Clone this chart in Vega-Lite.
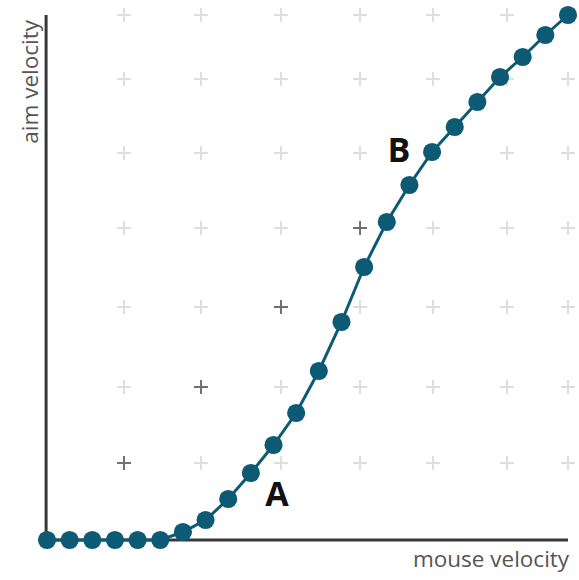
{
  "$schema": "https://vega.github.io/schema/vega-lite/v6.json",
  "width": 579,
  "height": 580,
  "padding": 0,
  "autosize": "none",
  "background": "white",
  "config": {"view": {"stroke": null}},
  "datasets": {
    "curve": [
      {"mouse": 0, "aim": 0}, {"mouse": 1, "aim": 0}, {"mouse": 2, "aim": 0}, {"mouse": 3, "aim": 0},
      {"mouse": 4, "aim": 0}, {"mouse": 5, "aim": 0}, {"mouse": 6, "aim": 8}, {"mouse": 7, "aim": 20},
      {"mouse": 8, "aim": 41}, {"mouse": 9, "aim": 67}, {"mouse": 10, "aim": 95}, {"mouse": 11, "aim": 127},
      {"mouse": 12, "aim": 169}, {"mouse": 13, "aim": 218}, {"mouse": 14, "aim": 273}, {"mouse": 15, "aim": 318},
      {"mouse": 16, "aim": 355}, {"mouse": 17, "aim": 388}, {"mouse": 18, "aim": 413}, {"mouse": 19, "aim": 438},
      {"mouse": 20, "aim": 463}, {"mouse": 21, "aim": 483}, {"mouse": 22, "aim": 505}, {"mouse": 23, "aim": 525}
    ],
    "grid": [
      {"gx": 3.4, "gy": 77, "tone": "dark"}, {"gx": 3.4, "gy": 153, "tone": "light"}, {"gx": 3.4, "gy": 233, "tone": "light"}, {"gx": 3.4, "gy": 312, "tone": "light"}, {"gx": 3.4, "gy": 387, "tone": "light"}, {"gx": 3.4, "gy": 461, "tone": "light"}, {"gx": 3.4, "gy": 525, "tone": "light"},
      {"gx": 6.8, "gy": 77, "tone": "light"}, {"gx": 6.8, "gy": 153, "tone": "dark"}, {"gx": 6.8, "gy": 233, "tone": "light"}, {"gx": 6.8, "gy": 312, "tone": "light"}, {"gx": 6.8, "gy": 387, "tone": "light"}, {"gx": 6.8, "gy": 461, "tone": "light"}, {"gx": 6.8, "gy": 525, "tone": "light"},
      {"gx": 10.33, "gy": 77, "tone": "light"}, {"gx": 10.33, "gy": 153, "tone": "light"}, {"gx": 10.33, "gy": 233, "tone": "dark"}, {"gx": 10.33, "gy": 312, "tone": "light"}, {"gx": 10.33, "gy": 387, "tone": "light"}, {"gx": 10.33, "gy": 461, "tone": "light"}, {"gx": 10.33, "gy": 525, "tone": "light"},
      {"gx": 13.82, "gy": 77, "tone": "light"}, {"gx": 13.82, "gy": 153, "tone": "light"}, {"gx": 13.82, "gy": 233, "tone": "light"}, {"gx": 13.82, "gy": 312, "tone": "dark"}, {"gx": 13.82, "gy": 387, "tone": "light"}, {"gx": 13.82, "gy": 461, "tone": "light"}, {"gx": 13.82, "gy": 525, "tone": "light"},
      {"gx": 17.04, "gy": 77, "tone": "light"}, {"gx": 17.04, "gy": 153, "tone": "light"}, {"gx": 17.04, "gy": 233, "tone": "light"}, {"gx": 17.04, "gy": 312, "tone": "light"}, {"gx": 17.04, "gy": 387, "tone": "light"}, {"gx": 17.04, "gy": 461, "tone": "light"}, {"gx": 17.04, "gy": 525, "tone": "light"},
      {"gx": 20.31, "gy": 77, "tone": "light"}, {"gx": 20.31, "gy": 153, "tone": "light"}, {"gx": 20.31, "gy": 233, "tone": "light"}, {"gx": 20.31, "gy": 312, "tone": "light"}, {"gx": 20.31, "gy": 387, "tone": "light"}, {"gx": 20.31, "gy": 461, "tone": "light"}, {"gx": 20.31, "gy": 525, "tone": "light"},
      {"gx": 23, "gy": 77, "tone": "light"}, {"gx": 23, "gy": 153, "tone": "light"}, {"gx": 23, "gy": 233, "tone": "light"}, {"gx": 23, "gy": 312, "tone": "light"}, {"gx": 23, "gy": 387, "tone": "light"}, {"gx": 23, "gy": 461, "tone": "light"}, {"gx": 23, "gy": 525, "tone": "light"}
    ],
    "axes": [
      {"ax": -0.04, "ax2": 23, "ay": 0, "ay2": 0},
      {"ax": -0.04, "ax2": -0.04, "ay": 0, "ay2": 525}
    ],
    "labels": [
      {"text": "A", "mouse": 10.15, "aim": 44},
      {"text": "B", "mouse": 15.54, "aim": 388}
    ]
  },
  "layer": [
    {
      "data": {"name": "grid"},
      "mark": {"type": "point", "shape": "M-1,0H1M0,-1V1", "size": 196, "filled": false, "strokeWidth": 2, "opacity": 1},
      "encoding": {
        "x": {"field": "gx", "type": "quantitative", "scale": {"domain": [-2.075, 23.486], "nice": false, "zero": false}, "axis": null},
        "y": {"field": "gy", "type": "quantitative", "scale": {"domain": [-40, 540], "nice": false, "zero": false}, "axis": null},
        "color": {"field": "tone", "type": "nominal", "scale": {"domain": ["light", "dark"], "range": ["#dedede", "#707070"]}, "legend": null}
      }
    },
    {
      "data": {"name": "axes"},
      "mark": {"type": "rule", "color": "#383838", "strokeWidth": 3},
      "encoding": {
        "x": {"field": "ax", "type": "quantitative", "scale": {"domain": [-2.075, 23.486], "nice": false, "zero": false}, "axis": null},
        "x2": {"field": "ax2"},
        "y": {"field": "ay", "type": "quantitative", "scale": {"domain": [-40, 540], "nice": false, "zero": false}, "axis": null},
        "y2": {"field": "ay2"}
      }
    },
    {
      "data": {"name": "curve"},
      "mark": {"type": "line", "color": "#0c5a73", "strokeWidth": 3},
      "encoding": {
        "x": {"field": "mouse", "type": "quantitative", "scale": {"domain": [-2.075, 23.486], "nice": false, "zero": false}, "axis": null},
        "y": {"field": "aim", "type": "quantitative", "scale": {"domain": [-40, 540], "nice": false, "zero": false}, "axis": null}
      }
    },
    {
      "data": {"name": "curve"},
      "mark": {"type": "circle", "color": "#0c5a73", "size": 330, "opacity": 1},
      "encoding": {
        "x": {"field": "mouse", "type": "quantitative", "scale": {"domain": [-2.075, 23.486], "nice": false, "zero": false}, "axis": null},
        "y": {"field": "aim", "type": "quantitative", "scale": {"domain": [-40, 540], "nice": false, "zero": false}, "axis": null}
      }
    },
    {
      "data": {"name": "labels"},
      "mark": {"type": "text", "font": "Open Sans", "fontSize": 34, "fontWeight": "bold", "color": "#111111", "align": "center", "baseline": "middle"},
      "encoding": {
        "x": {"field": "mouse", "type": "quantitative", "scale": {"domain": [-2.075, 23.486], "nice": false, "zero": false}, "axis": null},
        "y": {"field": "aim", "type": "quantitative", "scale": {"domain": [-40, 540], "nice": false, "zero": false}, "axis": null},
        "text": {"field": "text"}
      }
    },
    {
      "data": {"values": [{}]},
      "mark": {"type": "text", "text": "mouse velocity", "font": "Open Sans", "fontSize": 22.5, "color": "#555555", "align": "right", "baseline": "alphabetic"},
      "encoding": {
        "x": {"datum": 23.05, "type": "quantitative", "scale": {"domain": [-2.075, 23.486], "nice": false, "zero": false}, "axis": null},
        "y": {"datum": -27, "type": "quantitative", "scale": {"domain": [-40, 540], "nice": false, "zero": false}, "axis": null}
      }
    },
    {
      "data": {"values": [{}]},
      "mark": {"type": "text", "text": "aim velocity", "font": "Open Sans", "fontSize": 22.5, "color": "#555555", "align": "right", "baseline": "alphabetic", "angle": 270},
      "encoding": {
        "x": {"datum": -0.4, "type": "quantitative", "scale": {"domain": [-2.075, 23.486], "nice": false, "zero": false}, "axis": null},
        "y": {"datum": 520, "type": "quantitative", "scale": {"domain": [-40, 540], "nice": false, "zero": false}, "axis": null}
      }
    }
  ]
}
